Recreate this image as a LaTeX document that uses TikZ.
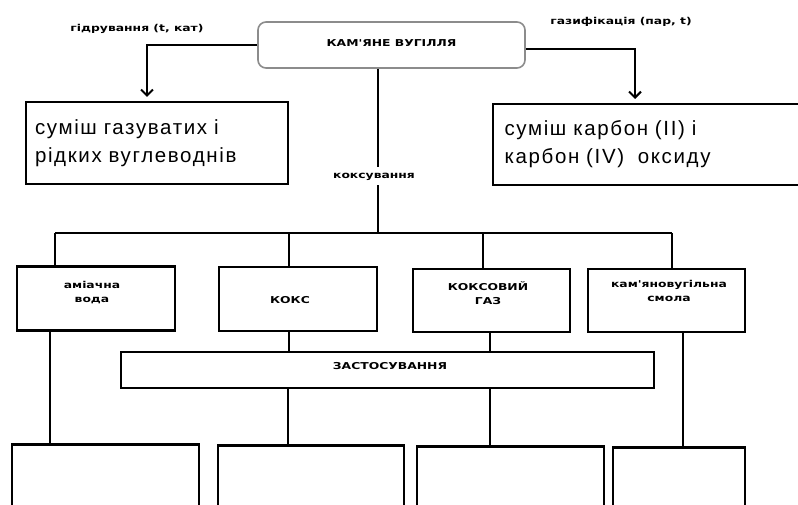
\documentclass[tikz,border=0pt]{standalone}
\usepackage{fontspec}
\setmainfont{Liberation Sans}
\newfontfamily\lblfont{DejaVu Sans}
\newfontfamily\bodyfont[LetterSpace=8]{Liberation Sans}
\usetikzlibrary{arrows.meta}
% wide bold captions: one or more centred lines, stretched horizontally
\newcommand\capt[1]{\scalebox{1.3}[1]{\begin{tabular}{@{}c@{}}#1\end{tabular}}}
\begin{document}
\begin{tikzpicture}[x=1pt,y=-1pt,
  line width=2.6pt,
  lbl/.style={font=\lblfont\bfseries\fontsize{9.5}{14}\selectfont, inner sep=1pt, align=center},
  body/.style={font=\bodyfont\fontsize{20.5}{28}\selectfont},
  box/.style={draw=black, line width=2.6pt, rectangle, inner sep=0pt},
  conn/.style={draw=black, line width=2.6pt},
  arr/.style={conn, -{Straight Barb[length=6pt,width=12pt,line width=2pt]}, shorten >=5pt}
]
\clip (0,0) rectangle (798,505);
\fill[white] (0,0) rectangle (798,505);

% source
\node[draw=black!45, line width=1.6pt, rounded corners=8pt, minimum width=267pt, minimum height=46pt,
      inner sep=0pt, lbl]
  (coal) at (391.5,45) {\raisebox{7pt}{\capt{КАМ'ЯНЕ ВУГІЛЛЯ}}};

% products of hydrogenation and gasification
\node[box, minimum width=262pt, minimum height=82pt, text width=244pt, align=left, body]
  (hydro) at (157,143) {суміш газуватих і\\рідких вуглеводнів};
\node[box, minimum width=317pt, minimum height=81pt, text width=294pt, align=left, body]
  (gasmix) at (651.5,144.5) {суміш карбон (II) і\\карбон (IV)\ \ оксиду};

\node[lbl] (hydlbl) at (137,29) {\capt{гідрування (t, кат)}};
\node[lbl] (gaslbl) at (621,22) {\capt{газифікація (пар, t)}};

\coordinate (hydin) at (147,102);
\coordinate (gasin) at (635,104);
\draw[arr] (coal.west) -| (hydin);
\draw[arr] ([yshift=-4pt]coal.east) -| (gasin);

% coking products
\node[box, minimum width=158pt, minimum height=64pt] (water) at (96,298.5) {};
\node[lbl] at (92,293) {\capt{аміачна\\вода}};
\node[box, minimum width=158pt, minimum height=64pt] (coke) at (298,299) {};
\node[lbl] at (290,301) {\capt{КОКС}};
\node[box, minimum width=157pt, minimum height=63pt] (cgas) at (491.5,300.5) {};
\node[lbl] at (488,295) {\capt{КОКСОВИЙ\\ГАЗ}};
\node[box, minimum width=157pt, minimum height=63pt] (tar) at (666.5,300.5) {};
\node[lbl] at (669,292) {\capt{кам'яновугільна\\смола}};

% coking line with its label
\coordinate (hub) at (378,233);
\draw[conn] ([xshift=-13.5pt]coal.south) -- (hub);
\node[lbl, fill=white, inner sep=2pt] (cokelbl) at (374,176) {\capt{коксування}};

\coordinate (busL) at (55,233);
\coordinate (busR) at (672,233);
\draw[conn] (busL) -- (busR);
\draw[conn] (busL) -- (busL |- water.north);
\draw[conn] (289,233) -- (289,267);
\draw[conn] (483,233) -- (483,269);
\draw[conn] (busR) -- (busR |- tar.north);

% applications
\node[box, minimum width=533pt, minimum height=36pt] (use) at (387.5,370) {};
\node[lbl] at (390,367) {\capt{ЗАСТОСУВАННЯ}};

\node[box, minimum width=187pt, minimum height=80pt, anchor=north] (u1) at (105.5,443) {};
\node[box, minimum width=186pt, minimum height=80pt, anchor=north] (u2) at (311,444) {};
\node[box, minimum width=187pt, minimum height=80pt, anchor=north] (u3) at (510.5,445) {};
\node[box, minimum width=132pt, minimum height=80pt, anchor=north] (u4) at (679,446) {};

\draw[conn] ([xshift=-46pt]water.south) -- ([xshift=-46pt]water.south |- u1.north);
\draw[conn] ([xshift=-9pt]coke.south) -- ([xshift=-9pt]coke.south |- use.north);
\draw[conn] ([xshift=-1.5pt]cgas.south) -- ([xshift=-1.5pt]cgas.south |- use.north);
\draw[conn] ([xshift=16.5pt]tar.south) -- ([xshift=16.5pt]tar.south |- u4.north);
\draw[conn] (288,388) -- (288,444);
\draw[conn] (490,388) -- (490,445);
\end{tikzpicture}
\end{document}
